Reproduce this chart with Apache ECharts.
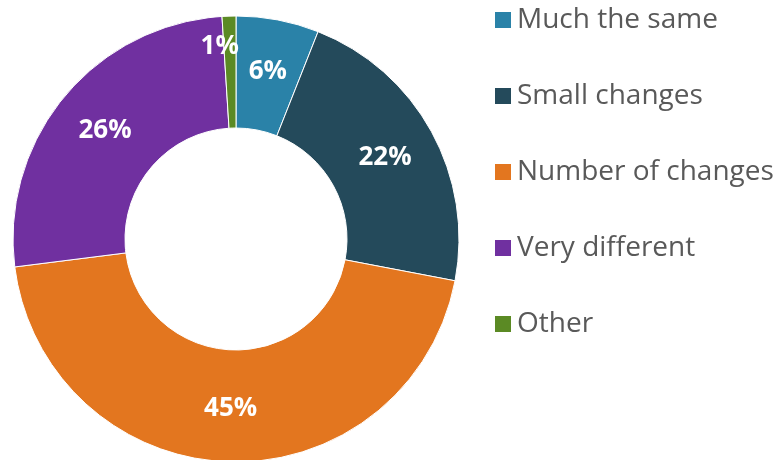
<!DOCTYPE html>
<html>
<head>
<meta charset="utf-8">
<script src="https://cdn.jsdelivr.net/npm/echarts@6/dist/echarts.min.js"></script>
<style>
  html, body { margin: 0; padding: 0; background: #fff; }
  #main { width: 782px; height: 460px; }
</style>
</head>
<body>
<div id="main"></div>
<script>
const categories = ['Much the same', 'Small changes', 'Number of changes', 'Very different', 'Other'];
const shares = [6, 22, 45, 26, 1];
const colors = ['#2a82a8', '#244a5b', '#e3761f', '#7030a0', '#5b8a24'];

const chart = echarts.init(document.getElementById('main'));

const pieData = categories.map((name, i) => {
  const item = { name: name, value: shares[i] };
  // the tiny slice label sits a little above and left of its wedge
  if (name === 'Other') item.label = { offset: [-11, -22] };
  return item;
});

chart.setOption({
  animation: false,
  color: colors,
  legend: {
    orient: 'vertical',
    left: 488,
    top: 1,
    itemWidth: 18,
    itemHeight: 18,
    itemGap: 48,
    icon: 'rect',
    data: categories,
    textStyle: {
      fontFamily: 'Open Sans',
      fontSize: 28,
      color: '#595959'
    }
  },
  series: [
    {
      type: 'pie',
      center: [236, 239],
      radius: [111, 223],
      startAngle: 90,
      clockwise: true,
      avoidLabelOverlap: false,
      itemStyle: {
        borderColor: '#ffffff',
        borderWidth: 1
      },
      label: {
        show: true,
        position: 'inside',
        formatter: '{c}%',
        color: '#ffffff',
        fontFamily: 'Open Sans',
        fontWeight: 'bold',
        fontSize: 26
      },
      labelLine: { show: false },
      data: pieData
    }
  ]
});
</script>
</body>
</html>
